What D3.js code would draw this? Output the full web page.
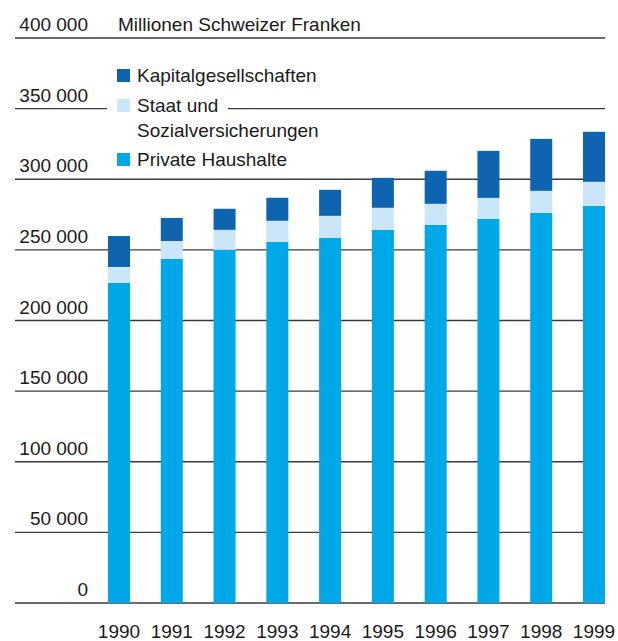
<!DOCTYPE html>
<html>
<head>
<meta charset="utf-8">
<script src="https://cdn.jsdelivr.net/npm/d3@7"></script>
<style>
    body { margin: 0; background: #fff; }
    svg { display: block; }
    text { font-family: "Liberation Sans", Arial, sans-serif; fill: #1a1a1a; }
</style>
</head>
<body>
<div id="chart"></div>
<script>
// Data (Millionen Schweizer Franken)
const years = ["1990", "1991", "1992", "1993", "1994", "1995", "1996", "1997", "1998", "1999"];
const privateHaushalte = [226600, 243600, 250000, 255700, 258500, 264200, 267700, 271900, 276200, 281200];
const staat = [11300, 12700, 14200, 14900, 15600, 15600, 14900, 14900, 15600, 17000];
const kapital = [21900, 16300, 14900, 16300, 18400, 21200, 23400, 33300, 36800, 35400];
const yTicks = [0, 50000, 100000, 150000, 200000, 250000, 300000, 350000, 400000];

const seriesKeys = ["Private Haushalte", "Staat und Sozialversicherungen", "Kapitalgesellschaften"];
const colours = {
    "Kapitalgesellschaften": "#0E64AF",
    "Staat und Sozialversicherungen": "#CAE6F8",
    "Private Haushalte": "#00A8E8"
};

const width = 618;
const height = 641;

const svg = d3.select("#chart")
    .append("svg")
    .attr("width", width)
    .attr("height", height)
    .attr("viewBox", [0, 0, width, height]);

// Scales
const xScale = d3.scaleBand()
    .domain(years)
    .range([108, 605])
    .paddingInner(0.583)
    .paddingOuter(0);

const yScale = d3.scaleLinear()
    .domain([0, 400000])
    .range([603, 38]);

const gridLeft = 15;
const gridRight = 605;
const fmt = v => d3.format(",")(v).replace(/,/g, " ");

// Gridlines (the 350 000 line leaves a gap for the legend)
const grid = svg.append("g").attr("class", "grid");
yTicks.forEach(t => {
    const y = yScale(t);
    const segments = (t === 350000) ? [[gridLeft, 107], [228, gridRight]] : [[gridLeft, gridRight]];
    segments.forEach(s => {
        grid.append("line")
            .attr("x1", s[0])
            .attr("x2", s[1])
            .attr("y1", y)
            .attr("y2", y)
            .attr("stroke", "#3a3a3a")
            .attr("stroke-width", 1.4);
    });
    grid.append("text")
        .attr("x", 88)
        .attr("y", y - 7)
        .attr("text-anchor", "end")
        .attr("font-size", 19)
        .text(fmt(t));
});

// Unit label
svg.append("text")
    .attr("x", 118)
    .attr("y", yScale(400000) - 7)
    .attr("font-size", 19)
    .text("Millionen Schweizer Franken");

// Stack the data
const table = years.map((yr, i) => ({
    year: yr,
    "Private Haushalte": privateHaushalte[i],
    "Staat und Sozialversicherungen": staat[i],
    "Kapitalgesellschaften": kapital[i]
}));

const stackedData = d3.stack().keys(seriesKeys)(table);

svg.append("g")
    .selectAll("g")
    .data(stackedData)
    .enter()
    .append("g")
    .attr("fill", d => colours[d.key])
    .selectAll("rect")
    .data(d => d)
    .enter()
    .append("rect")
    .attr("x", d => xScale(d.data.year))
    .attr("y", d => yScale(d[1]))
    .attr("width", xScale.bandwidth())
    .attr("height", d => yScale(d[0]) - yScale(d[1]));

// Year labels
svg.append("g")
    .selectAll("text")
    .data(years)
    .enter()
    .append("text")
    .attr("x", d => xScale(d) + xScale.bandwidth() / 2)
    .attr("y", 638)
    .attr("text-anchor", "middle")
    .attr("font-size", 19)
    .text(d => d);

// Legend
const legendItems = [
    { key: "Kapitalgesellschaften", lines: ["Kapitalgesellschaften"], y: 82 },
    { key: "Staat und Sozialversicherungen", lines: ["Staat und", "Sozialversicherungen"], y: 112 },
    { key: "Private Haushalte", lines: ["Private Haushalte"], y: 166 }
];

const legend = svg.append("g").attr("class", "legend");
legendItems.forEach(item => {
    legend.append("rect")
        .attr("x", 117)
        .attr("y", item.y - 13)
        .attr("width", 13)
        .attr("height", 13)
        .attr("fill", colours[item.key]);
    const txt = legend.append("text")
        .attr("x", 137)
        .attr("y", item.y)
        .attr("font-size", 19);
    item.lines.forEach((line, i) => {
        txt.append("tspan")
            .attr("x", 137)
            .attr("dy", i === 0 ? 0 : 25)
            .text(line);
    });
});
</script>
</body>
</html>
